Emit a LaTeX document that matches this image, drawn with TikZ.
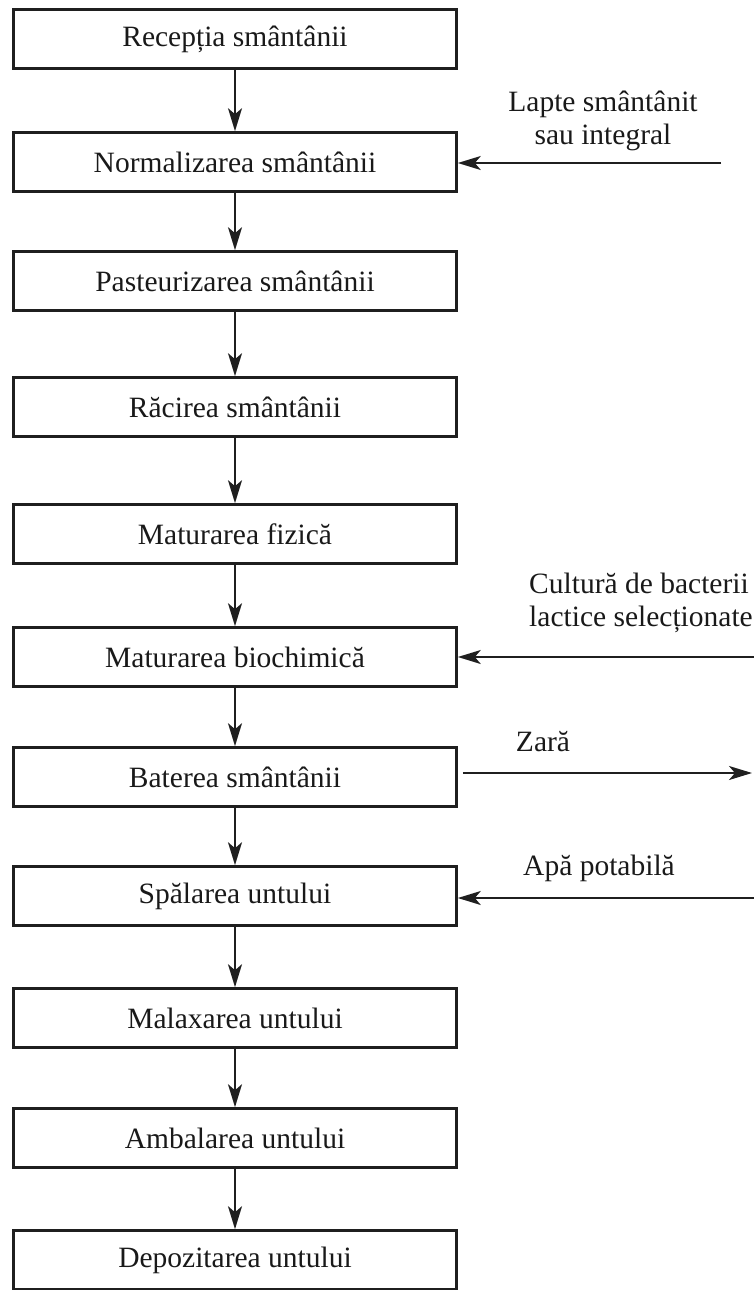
\documentclass[tikz,border=0pt]{standalone}
\usepackage{fontspec}
\setmainfont{Liberation Serif}
\usetikzlibrary{arrows.meta}
\begin{document}
\begin{tikzpicture}[x=1pt,y=-1pt,
  stepbox/.style={draw=black!88, line width=2.6pt, minimum width=443pt,
    minimum height=59pt, inner sep=0pt, text=black!90, font=\fontsize{29.5}{33}\selectfont},
  flow/.style={draw=black!88, line width=2.1pt,
    -{Stealth[length=23pt,width=14pt,inset=6pt]}},
  lbl/.style={text=black!90, font=\fontsize{29.5}{33}\selectfont, inner sep=0pt}]
\useasboundingbox (0,0) rectangle (754,1290);

% process steps
\node[stepbox] (b1)  at (235,39)   {Recepția smântânii};
\node[stepbox] (b2)  at (235,162)  {Normalizarea smântânii};
\node[stepbox] (b3)  at (235,281)  {Pasteurizarea smântânii};
\node[stepbox] (b4)  at (235,407)  {Răcirea smântânii};
\node[stepbox] (b5)  at (235,534)  {Maturarea fizică};
\node[stepbox] (b6)  at (235,657)  {Maturarea biochimică};
\node[stepbox] (b7)  at (235,777)  {Baterea smântânii};
\node[stepbox] (b8)  at (235,896)  {Spălarea untului};
\node[stepbox] (b9)  at (235,1018) {Malaxarea untului};
\node[stepbox] (b10) at (235,1138) {Ambalarea untului};
\node[stepbox] (b11) at (235,1260) {Depozitarea untului};

% main flow
\foreach \a/\b in {b1/b2,b2/b3,b3/b4,b4/b5,b5/b6,b6/b7,b7/b8,b8/b9,b9/b10,b10/b11}
  \draw[flow] (\a.south) -- (\b.north);

% side inputs and outputs
\node[lbl, align=center] (l2) at (603,121) {Lapte smântânit\\sau integral};
\coordinate (in2) at (721,163);
\draw[flow] (in2) -- (in2 -| b2.east);

\node[lbl, align=left, anchor=west] (l6) at (529,603) {Cultură de bacterii\\lactice selecționate};
\coordinate (in6) at (754,657);
\draw[flow] (in6) -- (in6 -| b6.east);

\node[lbl] (l7) at (543,742) {Zară};
\coordinate (out7) at (752,773);
\draw[flow] ([xshift=5pt]b7.east |- out7) -- (out7);

\node[lbl] (l8) at (599,868) {Apă potabilă};
\coordinate (in8) at (754,898);
\draw[flow] (in8) -- (in8 -| b8.east);
\end{tikzpicture}
\end{document}
